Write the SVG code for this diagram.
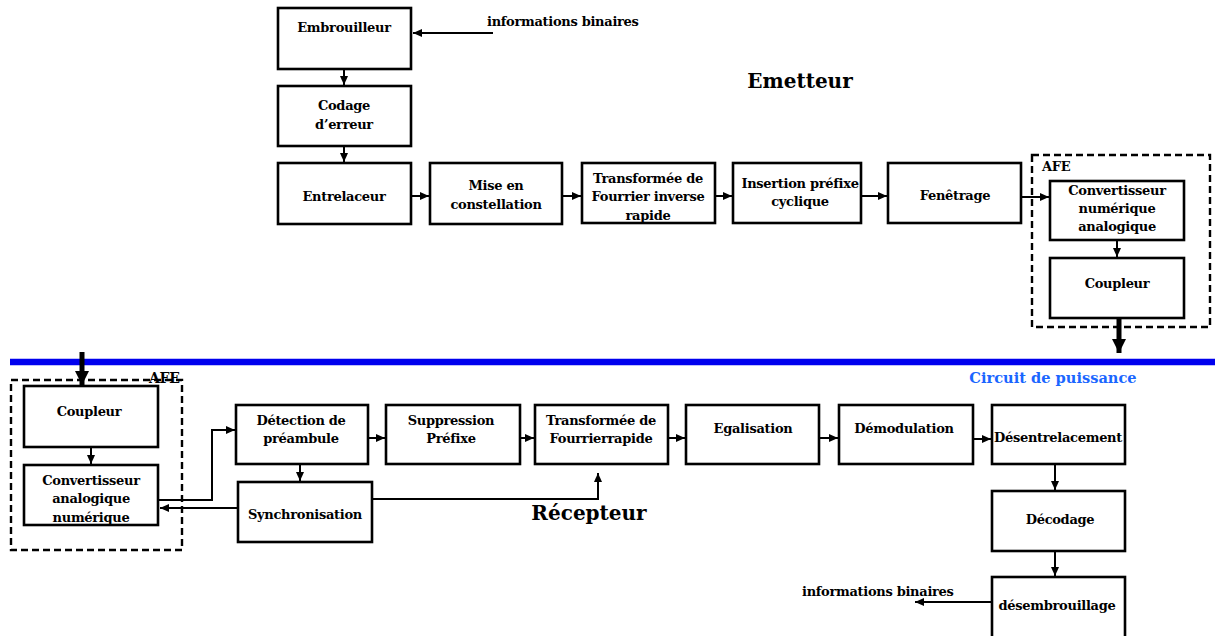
<svg xmlns="http://www.w3.org/2000/svg" width="1215" height="636" viewBox="0 0 1215 636">
<defs>
<marker id="ah" markerUnits="userSpaceOnUse" markerWidth="10" markerHeight="10" refX="9" refY="5" orient="auto">
<path d="M0,1 L9,5 L0,9 Z" fill="#000"/>
</marker>
<marker id="bh" markerUnits="userSpaceOnUse" markerWidth="16" markerHeight="16" refX="14" refY="8" orient="auto">
<path d="M0,1 L14,8 L0,15 Z" fill="#000"/>
</marker>
<style>
.box{fill:#fff;stroke:#000;stroke-width:2.6}
.afe{fill:none;stroke:#000;stroke-width:2.4;stroke-dasharray:7 4}
.t{font-family:"DejaVu Serif",serif;font-weight:bold;font-size:13px;fill:#000;text-anchor:middle;letter-spacing:-0.3px}
.l{text-anchor:start}
.c{fill:none;stroke:#000;stroke-width:2;marker-end:url(#ah)}
.thick{fill:none;stroke:#000;stroke-width:5;marker-end:url(#bh)}
.big{font-family:"DejaVu Serif",serif;font-weight:bold;font-size:20px;fill:#000;text-anchor:middle}
</style>
</defs>

<!-- power line -->
<line x1="10" y1="362" x2="1215" y2="362" stroke="#0000ee" stroke-width="6.5"/>
<text x="1053" y="383" style="font-family:'DejaVu Serif',serif;font-weight:bold;font-size:14.6px;fill:#1a66ff;text-anchor:middle">Circuit de puissance</text>

<text class="big" x="800" y="88">Emetteur</text>
<text class="big" x="589" y="520">Récepteur</text>

<!-- AFE containers -->
<g id="afe-tx">
<rect class="afe" x="1032" y="155" width="178" height="172"/>
<text class="t l" x="1042" y="171">AFE</text>
</g>
<g id="afe-rx">
<rect class="afe" x="11" y="380" width="171" height="170"/>
<text class="t l" x="149" y="383" style="font-size:14px">AFE</text>
</g>

<!-- connectors -->
<g id="connectors">
<line class="c" x1="493" y1="33" x2="413" y2="33"/>
<line class="c" x1="344" y1="69" x2="344" y2="85"/>
<line class="c" x1="344" y1="146" x2="344" y2="162"/>
<line class="c" x1="411" y1="196" x2="429" y2="196"/>
<line class="c" x1="562" y1="196" x2="581" y2="196"/>
<line class="c" x1="715" y1="196" x2="732" y2="196"/>
<line class="c" x1="861" y1="196" x2="887" y2="196"/>
<line class="c" x1="1021" y1="197" x2="1049" y2="197"/>
<line class="c" x1="1117" y1="240" x2="1117" y2="257"/>
<line class="thick" x1="1119" y1="318" x2="1119" y2="353"/>
<line class="thick" x1="82" y1="352" x2="82" y2="385"/>
<line class="c" x1="91" y1="447" x2="91" y2="464"/>
<polyline class="c" points="158,500 212,500 212,430 235,430"/>
<line class="c" x1="238" y1="508" x2="160" y2="508"/>
<line class="c" x1="300" y1="464" x2="300" y2="481"/>
<polyline class="c" points="372,499 598,499 598,473"/>
<line class="c" x1="368" y1="438" x2="385" y2="438"/>
<line class="c" x1="520" y1="438" x2="534" y2="438"/>
<line class="c" x1="668" y1="438" x2="685" y2="438"/>
<line class="c" x1="819" y1="438" x2="838" y2="438"/>
<line class="c" x1="973" y1="439" x2="991" y2="439"/>
<line class="c" x1="1055" y1="464" x2="1055" y2="490"/>
<line class="c" x1="1055" y1="551" x2="1055" y2="576"/>
<line class="c" x1="995" y1="602" x2="915" y2="602"/>
</g>

<text class="t l" x="487" y="26">informations binaires</text>
<text class="t l" x="802" y="596">informations binaires</text>

<!-- transmitter nodes -->
<g id="embrouilleur"><rect class="box" x="278" y="8" width="133" height="61"/><text class="t" x="344" y="32">Embrouilleur</text></g>
<g id="codage"><rect class="box" x="278" y="86" width="133" height="60"/><text class="t" x="344" y="110">Codage</text><text class="t" x="344" y="129">d’erreur</text></g>
<g id="entrelaceur"><rect class="box" x="278" y="163" width="133" height="61"/><text class="t" x="344" y="201">Entrelaceur</text></g>
<g id="constellation"><rect class="box" x="430" y="163" width="132" height="61"/><text class="t" x="496" y="190">Mise en</text><text class="t" x="496" y="209">constellation</text></g>
<g id="ifft"><rect class="box" x="582" y="163" width="133" height="60"/><text class="t" x="648" y="183">Transformée de</text><text class="t" x="648" y="201">Fourrier inverse</text><text class="t" x="648" y="220">rapide</text></g>
<g id="prefixe"><rect class="box" x="733" y="163" width="128" height="60"/><text class="t" x="800" y="188">Insertion préfixe</text><text class="t" x="800" y="206">cyclique</text></g>
<g id="fenetrage"><rect class="box" x="888" y="163" width="133" height="60"/><text class="t" x="955" y="200">Fenêtrage</text></g>
<g id="cna"><rect class="box" x="1050" y="181" width="134" height="59"/><text class="t" x="1117" y="195">Convertisseur</text><text class="t" x="1117" y="213">numérique</text><text class="t" x="1117" y="231">analogique</text></g>
<g id="coupleur-tx"><rect class="box" x="1050" y="258" width="134" height="60"/><text class="t" x="1117" y="288">Coupleur</text></g>

<!-- receiver nodes -->
<g id="coupleur-rx"><rect class="box" x="24" y="386" width="134" height="61"/><text class="t" x="89" y="416">Coupleur</text></g>
<g id="can"><rect class="box" x="24" y="465" width="134" height="60"/><text class="t" x="91" y="485">Convertisseur</text><text class="t" x="91" y="503">analogique</text><text class="t" x="91" y="522">numérique</text></g>
<g id="detection"><rect class="box" x="236" y="405" width="132" height="59"/><text class="t" x="301" y="425">Détection de</text><text class="t" x="301" y="443">préambule</text></g>
<g id="synchro"><rect class="box" x="238" y="482" width="134" height="60"/><text class="t" x="305" y="519">Synchronisation</text></g>
<g id="suppression"><rect class="box" x="386" y="405" width="134" height="59"/><text class="t" x="451" y="425">Suppression</text><text class="t" x="451" y="443">Préfixe</text></g>
<g id="fft"><rect class="box" x="535" y="405" width="133" height="59"/><text class="t" x="601" y="425">Transformée de</text><text class="t" x="601" y="443">Fourrierrapide</text></g>
<g id="egalisation"><rect class="box" x="686" y="405" width="133" height="59"/><text class="t" x="753" y="433">Egalisation</text></g>
<g id="demodulation"><rect class="box" x="839" y="405" width="134" height="59"/><text class="t" x="904" y="433">Démodulation</text></g>
<g id="desentrelacement"><rect class="box" x="992" y="405" width="133" height="59"/><text class="t" x="1058" y="442">Désentrelacement</text></g>
<g id="decodage"><rect class="box" x="992" y="491" width="133" height="60"/><text class="t" x="1060" y="524">Décodage</text></g>
<g id="desembrouillage"><rect class="box" x="992" y="577" width="133" height="65"/><text class="t" x="1057" y="610">désembrouillage</text></g>
</svg>
